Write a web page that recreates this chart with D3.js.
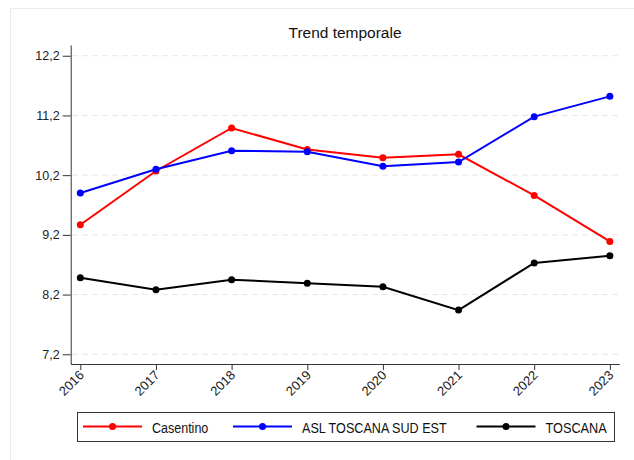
<!DOCTYPE html>
<html><head><meta charset="utf-8">
<script src="https://cdn.jsdelivr.net/npm/d3@7"></script>
<style>body{margin:0;background:#fff}svg{display:block;font-family:"Liberation Sans",Arial,sans-serif}</style>
</head><body><svg id="c" width="634" height="460"></svg>
<script>
const years = [2016,2017,2018,2019,2020,2021,2022,2023];
const casentino = [9.37,10.27,10.99,10.63,10.49,10.55,9.86,9.09];
const aslSudEst = [9.90,10.30,10.61,10.59,10.35,10.42,11.18,11.52];
const toscana = [8.48,8.28,8.45,8.39,8.33,7.94,8.73,8.85];
const yTicks = [7.2,8.2,9.2,10.2,11.2,12.2];
const seriesNames = ["Casentino","ASL TOSCANA SUD EST","TOSCANA"];
const seriesColors = ["#ff0000","#0000ff","#000000"];
const series = [casentino, aslSudEst, toscana].map((v,i)=>({name:seriesNames[i], color:seriesColors[i], values:v}));

const svg = d3.select("#c");
svg.append("rect").attr("x",10.5).attr("y",8.5).attr("width",640).attr("height",470)
  .attr("fill","#fff").attr("stroke","#e6ecee");

const x = d3.scaleLinear().domain([2015.873, 2023.125]).range([70.7, 619.3]);
const y = d3.scaleLinear().domain([7.037, 12.38]).range([364, 45]);
const fmt = d => d3.format(".1f")(d).replace(".", ",");

// grid
svg.append("g").selectAll("line").data(yTicks).join("line")
  .attr("x1",72).attr("x2",619).attr("y1",d=>y(d)).attr("y2",d=>y(d))
  .attr("stroke","#e6e6e6").attr("stroke-dasharray","6,4");

// axes
const gy = svg.append("g").attr("transform","translate(70.7,0)")
  .call(d3.axisLeft(y).tickValues(yTicks).tickFormat(fmt).tickSize(8).tickSizeOuter(0).tickPadding(3));
const gx = svg.append("g").attr("transform","translate(0,364)")
  .call(d3.axisBottom(x).tickValues(years).tickFormat(d3.format("d")).tickSize(6).tickSizeOuter(0));
[gy,gx].forEach(g=>{
  g.selectAll("path,line").attr("stroke","#333");
  g.selectAll("text").attr("fill","#222").style("font-size","12.5px").style("font-family","Liberation Sans, Arial, sans-serif");
});
gx.selectAll("text").style("font-size","13px").attr("text-anchor","end").attr("dy",null).attr("y",0)
  .attr("transform","translate(4,12) rotate(-45)");

// title
svg.append("text").attr("x",345).attr("y",38).attr("text-anchor","middle")
  .attr("fill","#111").style("font-size","14px")
  .attr("textLength",113).attr("lengthAdjust","spacingAndGlyphs").text("Trend temporale");

// lines
const line = d3.line().x((d,i)=>x(years[i])).y(d=>y(d));
series.forEach(s=>{
  svg.append("path").datum(s.values).attr("d",line).attr("fill","none")
    .attr("stroke",s.color).attr("stroke-width",2);
  svg.append("g").selectAll("circle").data(s.values).join("circle")
    .attr("cx",(d,i)=>x(years[i])).attr("cy",d=>y(d)).attr("r",3.5).attr("fill",s.color);
});

// legend
svg.append("rect").attr("x",77.5).attr("y",412.5).attr("width",537).attr("height",29)
  .attr("fill","#fff").attr("stroke","#333");
const legX = [83,233,476.5];
const legTextW = [56.3,144.7,61.3];
series.forEach((s,i)=>{
  const g = svg.append("g");
  g.append("line").attr("x1",legX[i]).attr("x2",legX[i]+59).attr("y1",426.5).attr("y2",426.5)
    .attr("stroke",s.color).attr("stroke-width",2);
  g.append("circle").attr("cx",legX[i]+29.5).attr("cy",426.5).attr("r",3.5).attr("fill",s.color);
  g.append("text").attr("x",legX[i]+69).attr("y",432.5).attr("fill","#111")
    .style("font-size","14px").attr("textLength",legTextW[i]).attr("lengthAdjust","spacingAndGlyphs")
    .text(s.name);
});
</script></body></html>
